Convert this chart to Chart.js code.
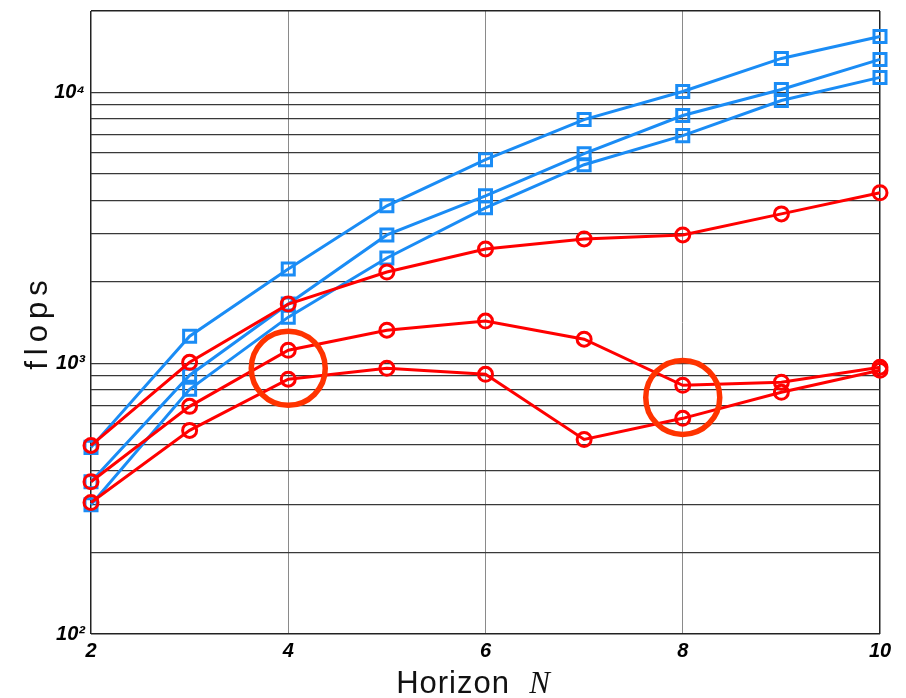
<!DOCTYPE html>
<html><head><meta charset="utf-8">
<script src="https://cdn.jsdelivr.net/npm/chart.js@4/dist/chart.umd.min.js"></script>
<style>html,body{margin:0;padding:0;background:#fff;}#wrap{width:906px;height:698px;}</style>
</head><body><div id="wrap"><canvas id="c" width="906" height="698"></canvas></div>
<script>
const horizon = [2, 3, 4, 5, 6, 7, 8, 9, 10];
const blueTop = [489, 1259, 2229, 3815, 5649, 7943, 10090, 13360, 16110];
const blueMid = [365, 903, 1654, 2979, 4155, 5943, 8222, 10260, 13250];
const blueLow = [300, 801, 1480, 2447, 3750, 5410, 6930, 9340, 11370];
const redTop = [497, 1008, 1654, 2173, 2644, 2879, 2979, 3562, 4263];
const redMid = [365, 693, 1117, 1325, 1431, 1227, 829, 851, 967];
const redLow = [306, 565, 873, 958, 910, 523, 626, 781, 942];
const highlightX = [4, 8];
const highlightY = [958, 748];
const yGrid = [100, 200, 300, 400, 500, 600, 700, 800, 900, 1000, 2000, 3000, 4000, 5000, 6000, 7000, 8000, 9000, 10000, 20000];
const yTickLabels = {100: '10\u00B2', 1000: '10\u00B3', 10000: '10\u2074'};
const xTicks = [2, 4, 6, 8, 10];
const xTitle = 'Horizon';
const xTitleVar = 'N';
const yTitle = 'flops';

const BLUE = '#1A8CF5', RED = '#FF0000';
const pts = arr => horizon.map((x, i) => ({x: x, y: arr[i]}));
function lineDs(label, arr, color, style, order) {
  return {
    type: 'line', label: label, data: pts(arr), borderColor: color, borderWidth: 3,
    pointStyle: style, pointRadius: style === 'rect' ? 8.5 : 7, pointBorderWidth: 3,
    pointBackgroundColor: 'rgba(0,0,0,0)', pointBorderColor: color, tension: 0, fill: false, order: order,
    clip: 12
  };
}
function noPad(s) { s.paddingTop = 0; s.paddingBottom = 0; s.paddingLeft = 0; s.paddingRight = 0; }

const titles = {
  id: 'titles',
  afterDraw(chart) {
    const ctx = chart.ctx;
    ctx.save();
    ctx.fillStyle = '#111';
    ctx.font = '31px "Liberation Sans", Arial, sans-serif';
    try { ctx.letterSpacing = '6px'; } catch (e) {}
    ctx.translate(38, 322);
    ctx.rotate(-Math.PI / 2);
    ctx.textAlign = 'center';
    ctx.textBaseline = 'middle';
    ctx.fillText(yTitle, 0, 0);
    ctx.restore();

    ctx.save();
    ctx.fillStyle = '#111';
    ctx.textBaseline = 'alphabetic';
    ctx.textAlign = 'left';
    ctx.font = '31px "Liberation Sans", Arial, sans-serif';
    try { ctx.letterSpacing = '1px'; } catch (e) {}
    const w1 = ctx.measureText(xTitle + '  ').width;
    ctx.font = 'italic 31px "Liberation Serif", "DejaVu Serif", serif';
    try { ctx.letterSpacing = '0px'; } catch (e) {}
    const w2 = ctx.measureText(xTitleVar).width;
    const x0 = 473 - (w1 + w2) / 2;
    ctx.font = '31px "Liberation Sans", Arial, sans-serif';
    try { ctx.letterSpacing = '1px'; } catch (e) {}
    ctx.fillText(xTitle, x0, 693);
    ctx.font = 'italic 31px "Liberation Serif", "DejaVu Serif", serif';
    try { ctx.letterSpacing = '0px'; } catch (e) {}
    ctx.fillText(xTitleVar, x0 + w1, 693);
    ctx.restore();
  }
};

new Chart(document.getElementById('c'), {
  type: 'line',
  data: {
    datasets: [
      {type: 'bubble', label: 'highlight', data: highlightX.map((x, i) => ({x: x, y: highlightY[i], r: 37})),
       borderColor: '#FF3300', borderWidth: 5.5, backgroundColor: 'rgba(0,0,0,0)', order: 0},
      lineDs('red 1', redTop, RED, 'circle', 1),
      lineDs('red 2', redMid, RED, 'circle', 1),
      lineDs('red 3', redLow, RED, 'circle', 1),
      lineDs('blue 1', blueTop, BLUE, 'rect', 2),
      lineDs('blue 2', blueMid, BLUE, 'rect', 2),
      lineDs('blue 3', blueLow, BLUE, 'rect', 2)
    ]
  },
  options: {
    responsive: false, animation: false, devicePixelRatio: 1,
    layout: {autoPadding: false, padding: {left: 0, right: 26, top: 11, bottom: 0}},
    plugins: {legend: {display: false}, tooltip: {enabled: false}},
    events: [],
    scales: {
      x: {
        type: 'linear', min: 2, max: 10,
        afterBuildTicks: s => { s.ticks = xTicks.map(v => ({value: v})); },
        afterFit: s => { s.height = 64; noPad(s); },
        grid: {
          color: c => (c.tick && (c.tick.value === 2 || c.tick.value === 10)) ? '#222' : '#8a8a8a',
          lineWidth: c => (c.tick && (c.tick.value === 2 || c.tick.value === 10)) ? 1.5 : 1,
          drawTicks: false
        },
        border: {display: false},
        ticks: {color: '#000', padding: 5, maxRotation: 0, autoSkip: false,
                font: {family: '"Liberation Sans", Arial, sans-serif', size: 20, weight: 'bold', style: 'italic'}}
      },
      y: {
        type: 'logarithmic', min: 100, max: 20000,
        afterBuildTicks: s => { s.ticks = yGrid.map(v => ({value: v})); },
        afterFit: s => { s.width = 91; noPad(s); },
        grid: {
          color: c => (c.tick && (c.tick.value === 100 || c.tick.value === 20000)) ? '#222' : '#383838',
          lineWidth: c => (c.tick && (c.tick.value === 100 || c.tick.value === 20000)) ? 1.5 : 1.3,
          drawTicks: false
        },
        border: {display: false},
        ticks: {color: '#000', padding: 6, autoSkip: false,
                callback: v => yTickLabels[v] || '',
                font: {family: '"Liberation Sans", Arial, sans-serif', size: 20, weight: 'bold', style: 'italic'}}
      }
    }
  },
  plugins: [titles]
});
</script></body></html>
